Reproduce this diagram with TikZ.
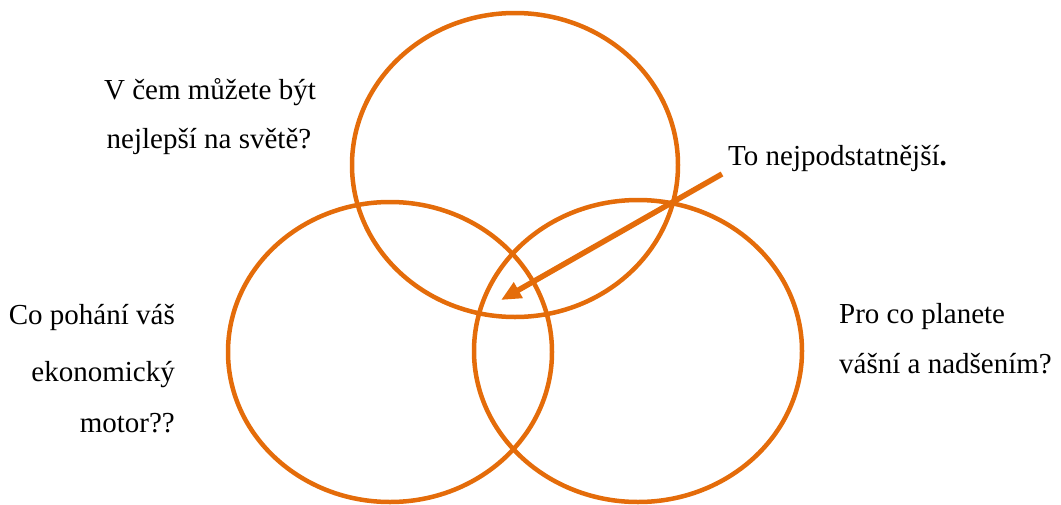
\documentclass[tikz,border=0pt]{standalone}
\usepackage{fontspec}
\setmainfont{Liberation Serif}
\usetikzlibrary{arrows.meta, positioning}
\definecolor{ringorange}{HTML}{E46C0A}

\begin{document}
\begin{tikzpicture}[
        x=1pt, y=-1pt,
        ring/.style={draw=ringorange, line width=4.5pt},
        pointer/.style={-{Triangle[length=20pt, width=17pt]}, draw=ringorange, line width=5.5pt},
        txt/.style={inner sep=0pt, font=\fontsize{29}{35}\selectfont}
    ]
        \useasboundingbox (0, 0) rectangle (1061, 504);
        \draw[ring] (515, 165) ellipse [x radius=163, y radius=152];
        \draw[ring] (390, 352) ellipse [x radius=162, y radius=150];
        \draw[ring] (638, 351) ellipse [x radius=164, y radius=151];
        \node[txt, anchor=base] (best1) at (210, 99) {V čem můžete být};
        \node[txt, anchor=base] (best2) at (209, 148) {nejlepší na světě?};
        \node[txt, anchor=base east] (econ1) at (175, 324) {Co pohání váš};
        \node[txt, anchor=base east] (econ2) at (175, 381) {ekonomický};
        \node[txt, anchor=base east] (econ3) at (175, 432) {motor??};
        \node[txt, anchor=base west] (pass1) at (839, 323) {Pro co planete};
        \node[txt, anchor=base west] (pass2) at (839, 373) {vášní a nadšením?};
        \node[txt, anchor=base west] (key) at (728, 165) {To nejpodstatnější\textbf{.}};
        \coordinate (tail) at (722, 174);
        \coordinate (core) at (501, 300);
        \draw[pointer] (tail) -- (core);
    \end{tikzpicture}
\end{document}
